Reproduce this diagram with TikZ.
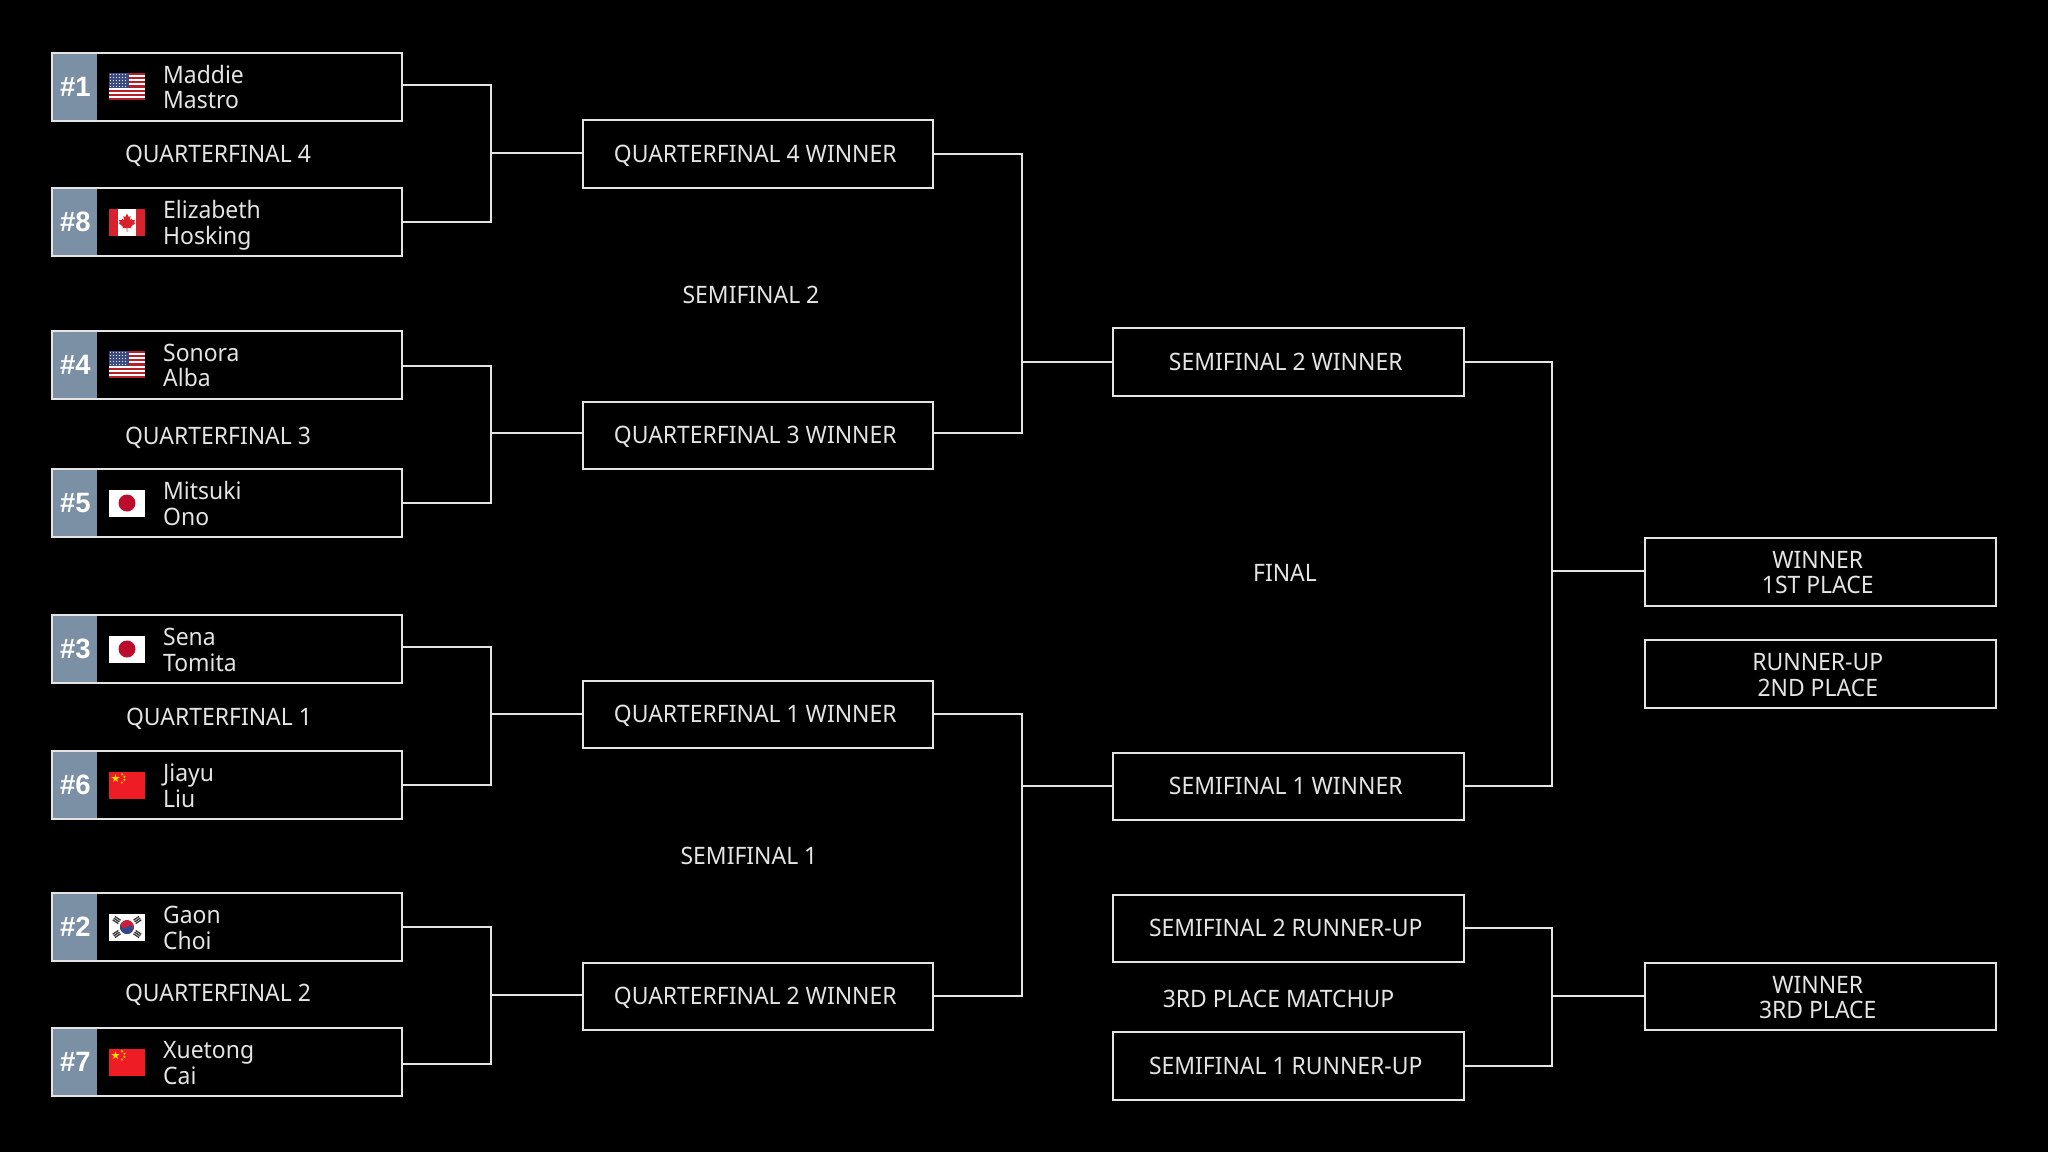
\documentclass[tikz,border=0pt]{standalone}
\usepackage{fontspec}
\setmainfont[FakeStretch=0.955]{Noto Sans}
\newfontfamily\rkfont[FakeStretch=0.98]{Liberation Sans}
\definecolor{ln}{HTML}{E4E4E4}
\definecolor{rk}{HTML}{7B90A4}
\definecolor{fr}{HTML}{D8232F}
\definecolor{fb}{HTML}{3C4A82}
\definecolor{kb}{HTML}{2D4A8C}
\definecolor{kr}{HTML}{C8203A}
\definecolor{jr}{HTML}{BC0E2C}
\definecolor{cr}{HTML}{EE1C25}
\definecolor{cy}{HTML}{FFDE00}
\newcommand{\bfs}{\fontsize{24}{25.5}\selectfont}
\newcommand{\tp}{\rule{0pt}{26pt}}
\newcommand{\bt}{\rule[-7pt]{0pt}{7pt}}
\newcommand{\one}{\rule[-7pt]{0pt}{31pt}}
\newcommand{\sh}{\hspace*{-5pt}}
\newcommand{\fstar}[4]{\fill[cy,shift={(#1,#2)},rotate=#4] (-90:#3) -- (-54:#3*.382) -- (-18:#3) -- (18:#3*.382) -- (54:#3) -- (90:#3*.382) -- (126:#3) -- (162:#3*.382) -- (198:#3) -- (234:#3*.382) -- cycle;}
\tikzset{
 box/.style={draw=ln,line width=2pt,inner sep=0pt,align=center,text=ln,font=\bfs},
 lab/.style={inner sep=0pt,align=center,text=ln,font=\bfs},
 pname/.style={inner sep=0pt,align=left,anchor=west,text=ln,font=\bfs},
 rank/.style={inner sep=0pt,text=white,font=\rkfont\fontsize{28}{28}\selectfont\bfseries},
 wire/.style={draw=ln,line width=2pt},
 usflag/.pic={
  \fill[white] (0,0) rectangle (36,27);
  \foreach \i in {0,2,...,12} {\fill[fr!85!black] (0,\i*27/13) rectangle (36,\i*27/13+27/13);}
  \fill[fb] (0,0) rectangle (20,14.5);
  \foreach \a in {1.5,4.5,...,19} {\foreach \b in {1.5,4.5,...,14} {\fill[white!85!fb] (\a,\b) circle (.6);}}
 },
 caflag/.pic={
  \fill[white] (0,0) rectangle (36,27);
  \fill[fr] (0,0) rectangle (9,27);
  \fill[fr] (27,0) rectangle (36,27);
  \fill[fr] (18,5.2) -- (19.8,8.6) -- (21.6,7.6) -- (20.9,12) -- (22.8,10.2) -- (23.4,11.8) -- (26,11.3) -- (25.2,14) -- (26.4,14.6) -- (22,18.2) -- (22.5,19.8) -- (18.4,19.2) -- (18.5,23) -- (17.5,23) -- (17.6,19.2) -- (13.5,19.8) -- (14,18.2) -- (9.6,14.6) -- (10.8,14) -- (10,11.3) -- (12.6,11.8) -- (13.2,10.2) -- (15.1,12) -- (14.4,7.6) -- (16.2,8.6) -- cycle;
 },
 jpflag/.pic={
  \fill[white] (0,0) rectangle (36,27);
  \fill[jr] (18,13.5) circle (8.5);
 },
 cnflag/.pic={
  \fill[cr] (0,0) rectangle (36,27);
  \fstar{6.5}{7}{4.2}{0}
  \fstar{13}{2.7}{1.4}{23}
  \fstar{15.5}{5.2}{1.4}{46}
  \fstar{15.5}{8.4}{1.4}{70}
  \fstar{13}{11}{1.4}{21}
 },
 krflag/.pic={
  \fill[white] (0,0) rectangle (36,27);
  \begin{scope}[shift={(18,13.5)},rotate=-33.7]
   \fill[kr] (0,0) circle (7);
   \begin{scope}
    \clip (-7,0) rectangle (7,7);
    \fill[kb] (0,0) circle (7);
   \end{scope}
   \fill[kr] (-3.5,0) circle (3.5);
   \fill[kb] (3.5,0) circle (3.5);
  \end{scope}
  \foreach \rr/\sx/\sy in {-33.7/-1/-1, 33.7/1/-1, 33.7/-1/1, -33.7/1/1} {
   \begin{scope}[shift={(18+\sx*10.4,13.5+\sy*7)},rotate=\rr+90]
    \foreach \d in {-2,0,2} {\fill[black!75] (\d-.7,-3.4) rectangle (\d+.7,3.4);}
   \end{scope}
  }
 }
}
\newcommand{\plbox}[7]{% name, top, bottom, rank, flag, first, last
 \node[box,minimum width=350pt,minimum height=#3pt-#2pt] (#1) at (227,{(#2+#3)/2}) {};
 \fill[rk] (53,#2+1) rectangle (97,#3-1);
 \draw[ln,line width=2pt] (52,#2) rectangle (402,#3);
 \node[rank] (#1r) at (75.5,{(#2+#3)/2}) {\##4};
 \pic at (109,{(#2+#3)/2-13.5}) {#5};
 \node[pname] (#1n) at (163,{(#2+#3)/2}) {\tp #6\\#7\bt};
}
\newcommand{\rbox}[6]{% name,x1,y1,x2,y2,text
 \node[box,minimum width=#4pt-#2pt,minimum height=#5pt-#3pt] (#1) at ({(#2+#4)/2},{(#3+#5)/2}) {#6};
}
\begin{document}
\begin{tikzpicture}[x=1pt,y=-1pt]
\useasboundingbox[fill=black] (0,0) rectangle (2048,1152);
\plbox{pa}{52.5}{120.5}{1}{usflag}{Maddie}{Mastro}
\plbox{pb}{188}{256}{8}{caflag}{Elizabeth}{Hosking}
\plbox{pc}{330.5}{398.5}{4}{usflag}{Sonora}{Alba}
\plbox{pd}{469}{537}{5}{jpflag}{Mitsuki}{Ono}
\plbox{pe}{615}{683}{3}{jpflag}{Sena}{Tomita}
\plbox{pf}{751}{819}{6}{cnflag}{Jiayu}{Liu}
\plbox{pg}{893}{961}{2}{krflag}{Gaon}{Choi}
\plbox{ph}{1028}{1096}{7}{cnflag}{Xuetong}{Cai}

\rbox{qd}{582.5}{120}{933}{187.5}{\one\sh QUARTERFINAL 4 WINNER}
\rbox{qc}{582.5}{401.5}{933}{469}{\one\sh QUARTERFINAL 3 WINNER}
\rbox{qa}{582.5}{680.5}{933}{748}{\one\sh QUARTERFINAL 1 WINNER}
\rbox{qb}{582.5}{962.5}{933}{1030}{\one\sh QUARTERFINAL 2 WINNER}
\rbox{sb}{1112.5}{328}{1464}{395.5}{\one\sh SEMIFINAL 2 WINNER}
\rbox{sa}{1112.5}{752.5}{1464}{820}{\one\sh SEMIFINAL 1 WINNER}
\rbox{rb}{1112.5}{894.5}{1464}{962}{\one\sh SEMIFINAL 2 RUNNER-UP}
\rbox{ra}{1112.5}{1032}{1464}{1099.5}{\one\sh SEMIFINAL 1 RUNNER-UP}
\rbox{fa}{1644.5}{537.5}{1996}{605.5}{\tp\sh WINNER\\\sh 1ST PLACE\bt}
\rbox{fb}{1644.5}{640}{1996}{708}{\tp\sh RUNNER-UP\\\sh 2ND PLACE\bt}
\rbox{fc}{1644.5}{962.5}{1996}{1030}{\tp\sh WINNER\\\sh 3RD PLACE\bt}

\node[lab] (l1) at (218,154) {\one QUARTERFINAL 4};
\node[lab] (l2) at (218,436) {\one QUARTERFINAL 3};
\node[lab] (l3) at (219,717) {\one QUARTERFINAL 1};
\node[lab] (l4) at (218,993) {\one QUARTERFINAL 2};
\node[lab] (l5) at (751,295) {\one SEMIFINAL 2};
\node[lab] (l6) at (749,856) {\one SEMIFINAL 1};
\node[lab] (l7) at (1285,573) {\one FINAL};
\node[lab] (l8) at (1278.5,999) {\one 3RD PLACE MATCHUP};

\coordinate (j1) at (490.5,153);
\coordinate (j2) at (490.5,433);
\coordinate (j3) at (490.5,714);
\coordinate (j4) at (490.5,995);
\coordinate (j5) at (1021.5,362);
\coordinate (j6) at (1021.5,786);
\coordinate (j7) at (1551.5,571);
\coordinate (j8) at (1551.5,995.5);

\draw[wire] ([yshift=2pt]pa.east) -| (j1);
\draw[wire] (pb.east) -| (j1);
\draw[wire] (j1) -- (j1-|qd.west);
\draw[wire] ([yshift=-1pt]pc.east) -| (j2);
\draw[wire] (pd.east) -| (j2);
\draw[wire] (j2) -- (j2-|qc.west);
\draw[wire] ([yshift=2pt]pe.east) -| (j3);
\draw[wire] (pf.east) -| (j3);
\draw[wire] (j3) -- (j3-|qa.west);
\draw[wire] (pg.east) -| (j4);
\draw[wire] ([yshift=-2pt]ph.east) -| (j4);
\draw[wire] (j4) -- (j4-|qb.west);
\draw[wire] (qd.east) -| (j5);
\draw[wire] ([yshift=2pt]qc.east) -| (j5);
\draw[wire] (j5) -- (j5-|sb.west);
\draw[wire] (qa.east) -| (j6);
\draw[wire] (qb.east) -| (j6);
\draw[wire] (j6) -- (j6-|sa.west);
\draw[wire] (sb.east) -| (j7);
\draw[wire] (sa.east) -| (j7);
\draw[wire] (j7) -- (j7-|fa.west);
\draw[wire] (rb.east) -| (j8);
\draw[wire] (ra.east) -| (j8);
\draw[wire] (j8) -- (j8-|fc.west);
\end{tikzpicture}
\end{document}
